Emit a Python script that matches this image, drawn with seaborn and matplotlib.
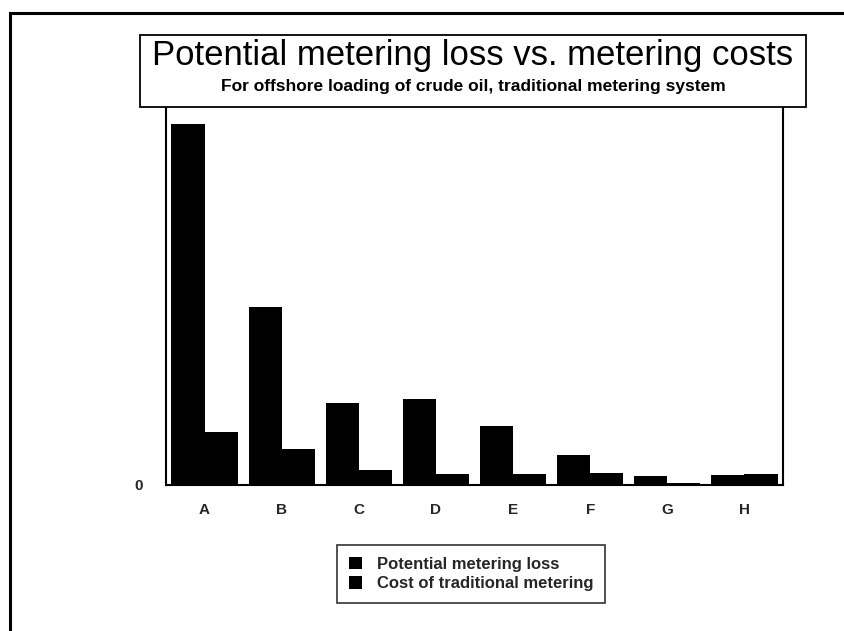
import matplotlib
matplotlib.use("Agg")
import matplotlib.pyplot as plt
from matplotlib.patches import Rectangle
import seaborn as sns
import pandas as pd

categories = ["A", "B", "C", "D", "E", "F", "G", "H"]
loss_values = [361, 178, 82, 86, 59, 30, 9, 10]
cost_values = [53, 36, 15, 11, 11, 12, 2, 11]
series_names = ["Potential metering loss", "Cost of traditional metering"]

title = "Potential metering loss vs. metering costs"
subtitle = "For offshore loading of crude oil, traditional metering system"

df = pd.DataFrame({
    "category": categories * 2,
    "series": [series_names[0]] * len(categories) + [series_names[1]] * len(categories),
    "value": loss_values + cost_values,
})

sns.set_theme(style="white")
plt.rcParams["font.family"] = ["Liberation Sans", "DejaVu Sans"]

W, H = 844, 631
fig = plt.figure(figsize=(W / 100, H / 100), dpi=100)
fig.patch.set_facecolor("white")

ax_l, ax_r, ax_t, ax_b = 166, 783, 108, 485
ax = fig.add_axes([ax_l / W, 1 - ax_b / H, (ax_r - ax_l) / W, (ax_b - ax_t) / H])

sns.barplot(data=df, x="category", y="value", hue="series", order=categories,
            hue_order=series_names, palette=["black", "black"], width=0.86,
            saturation=1, linewidth=0, ax=ax)

ax.set_ylim(0, 377)
ax.set_xlim(-0.5, len(categories) - 0.5)
ax.set_yticks([0])
ax.set_yticklabels(["0"])
ax.set_xlabel("")
ax.set_ylabel("")
ax.tick_params(axis="x", length=0, pad=13, labelsize=11)
ax.tick_params(axis="y", length=0, pad=17, labelsize=11)
for lab in ax.get_xticklabels() + ax.get_yticklabels():
    lab.set_fontweight("bold")
for side in ["left", "bottom", "right"]:
    ax.spines[side].set_visible(True)
    ax.spines[side].set_color("black")
    ax.spines[side].set_linewidth(1.5)
ax.spines["top"].set_visible(False)
ax.set_facecolor("white")

handles, labels = ax.get_legend_handles_labels()
ax.get_legend().remove()

# outer frame
fig.patches.append(Rectangle((10 / W, -0.1), 1.2, 1.1 - 13 / H, transform=fig.transFigure,
                             fill=False, edgecolor="black", linewidth=2.2))
# title box
tb_l, tb_r, tb_t, tb_b = 140, 806, 35, 107
fig.patches.append(Rectangle((tb_l / W, 1 - tb_b / H), (tb_r - tb_l) / W, (tb_b - tb_t) / H,
                             transform=fig.transFigure, fill=True, facecolor="white",
                             edgecolor="black", linewidth=1.3))
fig.text((tb_l + tb_r) / 2 / W, 1 - 55 / H, title, ha="center", va="center",
         fontsize=25, color="black")
fig.text((tb_l + tb_r) / 2 / W, 1 - 86 / H, subtitle, ha="center", va="center",
         fontsize=12.5, fontweight="bold", color="black")

leg = fig.legend(handles, labels, loc="upper left", bbox_to_anchor=(337 / W, 1 - 545 / H),
                 frameon=True, fancybox=False, edgecolor="black", facecolor="white",
                 prop={"weight": "bold", "size": 12}, handlelength=0.8, handleheight=0.8,
                 handletextpad=0.9, borderpad=0.7, labelspacing=0.25, borderaxespad=0)
leg.get_frame().set_linewidth(1.2)

fig.savefig("out.png", dpi=100)
